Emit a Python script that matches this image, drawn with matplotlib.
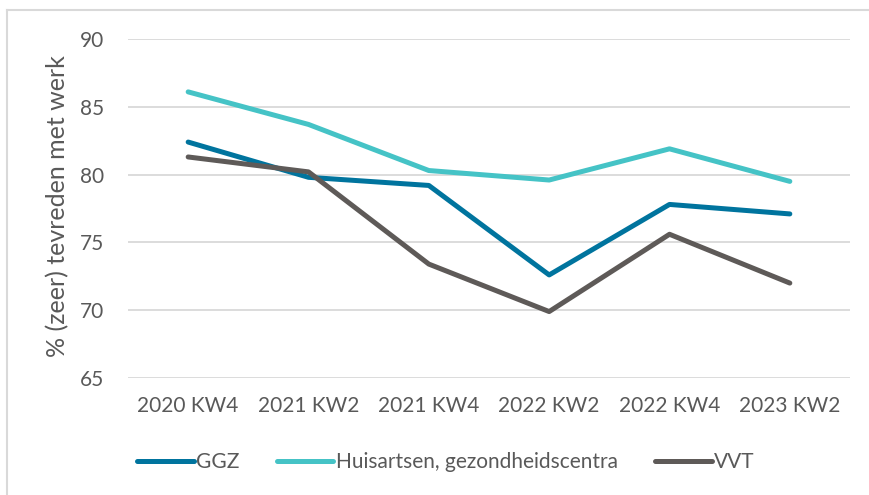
import matplotlib
matplotlib.use("Agg")
import matplotlib.pyplot as plt
from matplotlib.lines import Line2D

plt.rcParams["font.family"] = ["Lato", "DejaVu Sans"]

categories = ["2020 KW4", "2021 KW2", "2021 KW4", "2022 KW2", "2022 KW4", "2023 KW2"]
ggz = [82.4, 79.8, 79.2, 72.6, 77.8, 77.1]
huisartsen = [86.1, 83.7, 80.3, 79.6, 81.9, 79.5]
vvt = [81.3, 80.2, 73.4, 69.9, 75.6, 72.0]
series_names = ["GGZ", "Huisartsen, gezondheidscentra", "VVT"]
colors = ["#00749E", "#45C3C6", "#5E5A58"]
y_ticks = [65, 70, 75, 80, 85, 90]

fig = plt.figure(figsize=(8.69, 4.95), dpi=100)
ax = fig.add_axes([128 / 869, 1 - 378 / 495, 722 / 869, 339 / 495])

x = range(len(categories))
for vals, name, c in zip([ggz, huisartsen, vvt], series_names, colors):
    ax.plot(x, vals, color=c, lw=3.6, solid_capstyle="round", label=name)

ax.set_xlim(-0.5, len(categories) - 0.5)
ax.set_ylim(65, 90)
ax.set_yticks(y_ticks)
ax.set_xticks(list(x))
ax.set_xticklabels(categories)
ax.tick_params(axis="both", length=0, colors="#595959", labelsize=15)
ax.tick_params(axis="y", pad=17)
ax.tick_params(axis="x", pad=13)
ax.grid(axis="y", color="#D9D9D9", lw=1.3)
ax.set_axisbelow(True)
for s in ax.spines.values():
    s.set_visible(False)

fig.text(58 / 869, 1 - 206 / 495, "% (zeer) tevreden met werk", rotation=90,
         ha="center", va="center", fontsize=18, color="#595959")

handles = [Line2D([0], [0], color=c, lw=3.6, solid_capstyle="round") for c in colors]
fig.legend(handles, series_names, loc="center", bbox_to_anchor=(446 / 869, 1 - 462 / 495),
           ncol=3, frameon=False, fontsize=15, labelcolor="#595959",
           handlelength=2.7, handletextpad=0.12, columnspacing=1.8)

# outer frame (only top and left visible)
fig.add_artist(Line2D([7 / 869, 7 / 869], [0, 1 - 10 / 495], color="#D9D9D9", lw=1.5))
fig.add_artist(Line2D([7 / 869, 1], [1 - 10 / 495, 1 - 10 / 495], color="#D9D9D9", lw=1.5))

fig.savefig("out.png", dpi=100)
plt.close(fig)
